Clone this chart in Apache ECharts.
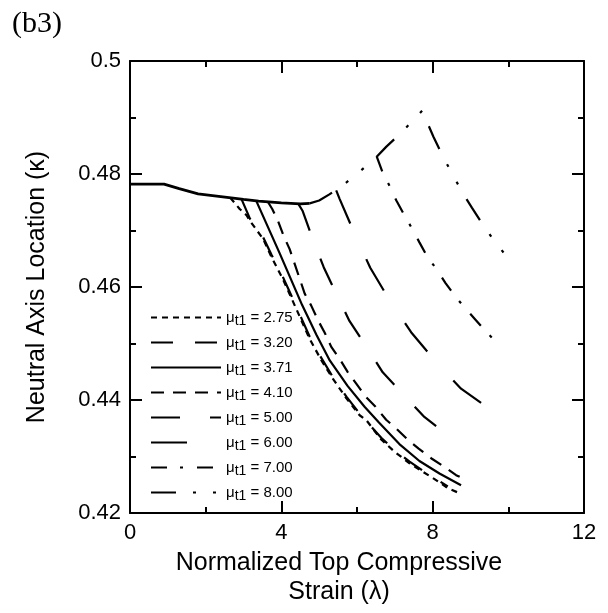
<!DOCTYPE html>
<html><head><meta charset="utf-8">
<script src="https://cdn.jsdelivr.net/npm/echarts@6/dist/echarts.min.js"></script>
<style>html,body{margin:0;padding:0;background:#fff}#c{width:608px;height:613px}</style>
</head><body><div id="c"></div>
<script>
// ---- data ----
const xTickLabels = [0, 4, 8, 12];
const yTickLabels = ['0.42', '0.44', '0.46', '0.48', '0.5'];
const muValues = ['2.75', '3.20', '3.71', '4.10', '5.00', '6.00', '7.00', '8.00'];

// shared path before the curves separate
const commonPath = [[0,0.4782],[0.9,0.4782],[1.3,0.4774],[1.8,0.4765],[2.4,0.4760],[3.0,0.4755],[3.4,0.4752],[4.0,0.4749],[4.5,0.4747],[4.75,0.4748]];

const mu275 = [[2.65,0.4758],[2.90,0.4738],[3.08,0.4727],[3.17,0.4717],[3.52,0.4685],[3.74,0.4653],[4.04,0.4614],[4.27,0.4580],[4.53,0.4541],[4.75,0.4508],[5.06,0.4470],[5.36,0.4438],[5.72,0.4403],[6.07,0.4373],[6.25,0.4364],[6.64,0.4330],[7.0,0.4308],[7.39,0.4288],[7.74,0.4273],[8.05,0.4260],[8.40,0.4244],[8.71,0.4235]];
const mu320 = [[2.95,0.4755],[3.17,0.4721],[3.52,0.4688],[3.74,0.4657],[4.04,0.4618],[4.27,0.4584],[4.53,0.4545],[4.75,0.4512],[5.06,0.4474],[5.36,0.4441],[5.72,0.4406],[6.07,0.4376],[6.64,0.4333],[7.0,0.4311],[7.39,0.4291],[7.74,0.4275],[8.05,0.4262],[8.40,0.4247]];
const mu371 = [[3.34,0.4752],[3.96,0.4659],[4.55,0.4568],[4.93,0.4515],[5.28,0.4470],[5.75,0.4425],[6.20,0.4388],[6.58,0.4360],[7.12,0.4322],[7.65,0.4292],[8.18,0.4270],[8.75,0.4249]];
const mu410 = [[3.65,0.4750],[3.76,0.4738],[3.91,0.4717],[4.07,0.4689],[4.22,0.4667],[4.62,0.4588],[4.79,0.4567],[4.97,0.4541],[5.14,0.4520],[5.32,0.4494],[5.54,0.4473],[5.76,0.4449],[5.98,0.4429],[6.24,0.4405],[6.49,0.4388],[6.77,0.4365],[7.03,0.4350],[7.34,0.4330],[7.63,0.4314],[7.98,0.4296],[8.28,0.4283],[8.62,0.4267],[8.81,0.4261]];
const mu500 = [[4.45,0.4747],[4.56,0.4735],[4.82,0.4687],[5.12,0.4635],[5.45,0.4588],[5.80,0.4540],[6.24,0.4495],[6.68,0.4449],[7.21,0.4411],[7.78,0.4370],[8.40,0.4338]];
const mu600 = [[5.45,0.4771],[5.54,0.4756],[5.92,0.4697],[6.35,0.4634],[6.84,0.4579],[7.43,0.4520],[7.83,0.4488],[8.30,0.4452],[8.75,0.4420],[9.28,0.4395]];
const mu700 = [[6.52,0.4831],[6.68,0.4802],[6.86,0.4779],[7.04,0.4753],[7.26,0.4726],[7.46,0.4703],[7.65,0.4679],[7.87,0.4652],[8.09,0.4633],[8.34,0.4607],[8.59,0.4584],[8.84,0.4564],[9.12,0.4543],[9.41,0.4521],[9.67,0.4503]];
const mu800 = [[4.75,0.4748],[5.0,0.4753],[5.27,0.4764],[5.56,0.4777],[5.93,0.4796],[6.5,0.4829],[6.77,0.4848],[7.12,0.4870],[7.47,0.4894],[7.72,0.4912],[8.02,0.4866],[8.25,0.4834],[8.47,0.4806],[8.79,0.4767],[9.04,0.4740],[9.30,0.4713],[9.59,0.4685],[9.98,0.4652]];

const curves = [mu275, mu320, mu371, mu410, mu500, mu600, mu700, mu800];

// ---- styles ----
const font = '"Liberation Sans", Arial, sans-serif';
const dashStyles = [[6,5],[22,22],'solid',[13,9],[29,30],[36,39],[16,13,3,14],[25,17,3,17,3,17]];

const chart = echarts.init(document.getElementById('c'), null, {renderer: 'canvas'});

const tickCommon = {
  axisLine: {show: true, onZero: false, lineStyle: {color: '#000', width: 2}},
  axisTick: {show: true, inside: true, length: 12, lineStyle: {color: '#000', width: 2}},
  minorTick: {show: true, splitNumber: 2, length: 6, lineStyle: {color: '#000', width: 2}},
  splitLine: {show: false},
  minorSplitLine: {show: false}
};

const series = [{
  name: 'common', type: 'line', data: commonPath, symbol: 'none',
  lineStyle: {color: '#000', width: 2.8, type: 'solid'}, z: 3, silent: true
}];
curves.forEach((d, i) => {
  series.push({
    name: muValues[i], type: 'line', data: d, symbol: 'none', showSymbol: false,
    itemStyle: {color: '#000'},
    lineStyle: {color: '#000', width: 2.2, type: dashStyles[i]}, z: 2
  });
});

chart.setOption({
  animation: false,
  backgroundColor: '#fff',
  grid: {left: 130, top: 61, width: 454, height: 452, containLabel: false},
  graphic: [{type: 'text', left: 12, top: 9, style: {text: '(b3)', font: '30px "Liberation Serif", "Times New Roman", serif', fill: '#000'}}],
  legend: {
    data: muValues, orient: 'vertical', left: 145, top: 305,
    itemWidth: 70, itemHeight: 14, itemGap: 7, selectedMode: false,
    itemStyle: {opacity: 0, color: 'rgba(0,0,0,0)', borderWidth: 0},
    formatter: n => '{m|μ}{s|t1}{m| = ' + n + '}',
    textStyle: {
      color: '#000', fontFamily: font, fontSize: 15,
      rich: {
        m: {fontSize: 15, fontFamily: font, color: '#000'},
        s: {fontSize: 14, fontFamily: font, color: '#000', padding: [7, 0, 0, 0]}
      }
    }
  },
  xAxis: [Object.assign({
    type: 'value', min: 0, max: 12, interval: 4, position: 'bottom',
    axisLabel: {color: '#000', fontSize: 22, fontFamily: font, margin: 9,
      formatter: v => xTickLabels.indexOf(Math.round(v)) >= 0 ? String(Math.round(v)) : ''},
    name: 'Normalized Top Compressive\nStrain (λ)', nameLocation: 'middle', nameGap: 36,
    nameTextStyle: {color: '#000', fontSize: 25, fontFamily: font, lineHeight: 29, padding: [0, 36, 0, 0]}
  }, tickCommon), Object.assign({
    type: 'value', min: 0, max: 12, interval: 4, position: 'top', axisLabel: {show: false}
  }, tickCommon)],
  yAxis: [Object.assign({
    type: 'value', min: 0.42, max: 0.5, interval: 0.02, position: 'left',
    axisLabel: {color: '#000', fontSize: 22, fontFamily: font, margin: 9,
      formatter: v => { const s = String(+v.toFixed(2)); return yTickLabels.indexOf(s) >= 0 ? s : ''; }},
    name: 'Neutral Axis Location (κ)', nameLocation: 'middle', nameGap: 80,
    nameTextStyle: {color: '#000', fontSize: 25, fontFamily: font}
  }, tickCommon), Object.assign({
    type: 'value', min: 0.42, max: 0.5, interval: 0.02, position: 'right', axisLabel: {show: false}
  }, tickCommon)],
  series: series
});
</script>
</body></html>
